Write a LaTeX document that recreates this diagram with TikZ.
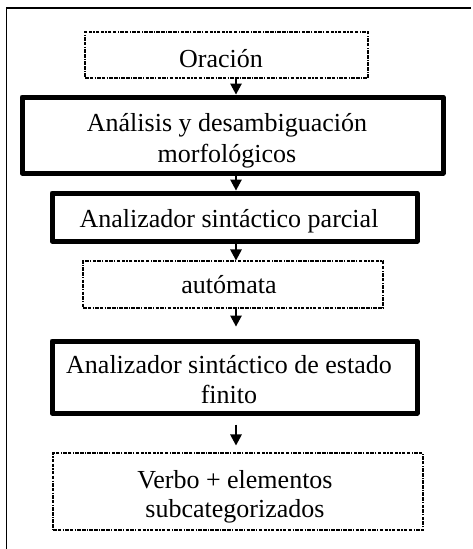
\documentclass[tikz,border=0pt]{standalone}
\usepackage{fontspec}
\setmainfont{Liberation Serif}
\usetikzlibrary{arrows.meta}
\begin{document}
\begin{tikzpicture}[x=1pt,y=-1pt,
  thickbox/.style={draw,line width=5pt,line join=round,inner sep=0pt,rectangle},
  dashbox/.style={draw,line width=1.1pt,inner sep=0pt,rectangle,
    dash pattern=on 3.5pt off 1.3pt on 3.5pt off 1.3pt on 1.2pt off 1.3pt},
  txt/.style={anchor=base,inner sep=0pt,font=\fontsize{26}{30}\selectfont},
  arr/.style={line width=1.3pt,-{Triangle[length=11pt,width=11.5pt]}},
  frame/.style={line width=1.6pt}]
\useasboundingbox (0,0) rectangle (472,549);
% frame
\coordinate (fl) at (6.5,549);
\coordinate (fc) at (6.5,8);
\coordinate (fr) at (471,8);
\draw[frame] (fl) -- (fc) -- (fr);
% boxes
\node[dashbox,minimum width=283pt,minimum height=46pt] (n1) at (226.5,55) {};
\node[thickbox,minimum width=421pt,minimum height=76pt] (n2) at (232.5,135) {};
\node[thickbox,minimum width=365pt,minimum height=48pt] (n3) at (234.5,217) {};
\node[dashbox,minimum width=300pt,minimum height=47pt] (n4) at (233,284.5) {};
\node[thickbox,minimum width=365pt,minimum height=72pt] (n5) at (234.5,377) {};
\node[dashbox,minimum width=370pt,minimum height=77pt] (n6) at (238,491.5) {};
% texts
\node[txt] (t1) at (221,67) {Oración};
\node[txt] (t2a) at (227,131.5) {Análisis y desambiguación};
\node[txt] (t2b) at (227,162) {morfológicos};
\node[txt] (t3) at (229,227) {Analizador sintáctico parcial};
\node[txt] (t4) at (229,293) {autómata};
\node[txt] (t5a) at (229,373) {Analizador sintáctico de estado};
\node[txt] (t5b) at (229,403) {finito};
\node[txt] (t6a) at (235,488) {Verbo + elementos};
\node[txt] (t6b) at (235,517) {subcategorizados};
% arrows
\coordinate (ax) at (236,0);
\draw[arr] (n1.south -| ax) -- (n2.north -| ax);
\draw[arr] (n2.south -| ax) -- (n3.north -| ax);
\draw[arr] (n3.south -| ax) -- (n4.north -| ax);
\draw[arr,shorten >=12pt] (n4.south -| ax) -- (n5.north -| ax);
\draw[arr,shorten <=9pt,shorten >=7pt] (n5.south -| ax) -- (n6.north -| ax);
\end{tikzpicture}
\end{document}
